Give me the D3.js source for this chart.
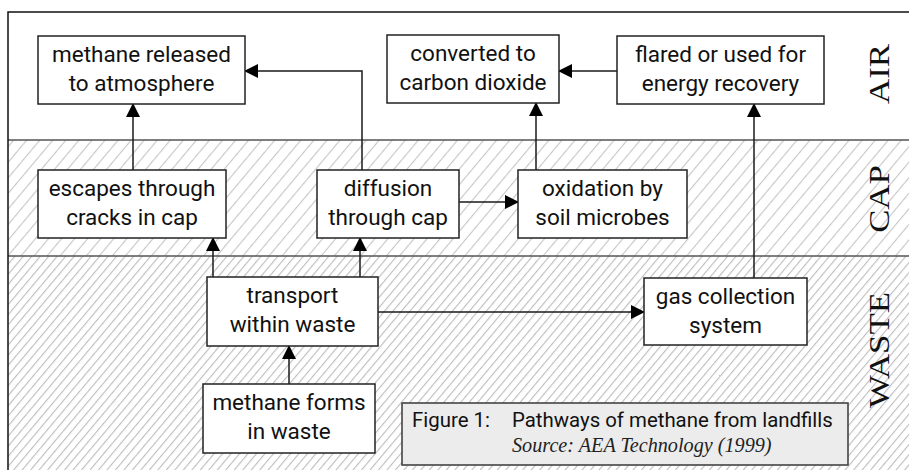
<!DOCTYPE html>
<html>
<head>
<meta charset="utf-8">
<script src="https://cdn.jsdelivr.net/npm/d3@7"></script>
<style>
  body { margin: 0; background: #fff; }
  svg { display: block; }
</style>
</head>
<body>
<div id="chart"></div>
<script>
// zones of the landfill, top to bottom
const zones = ["AIR", "CAP", "WASTE"];

// process boxes
const boxIds = ["released", "converted", "flared", "escapes", "diffusion", "oxidation", "transport", "collection", "forms"];
const boxLabels = [
  ["methane released", "to atmosphere"],
  ["converted to", "carbon dioxide"],
  ["flared or used for", "energy recovery"],
  ["escapes through", "cracks in cap"],
  ["diffusion", "through cap"],
  ["oxidation by", "soil microbes"],
  ["transport", "within waste"],
  ["gas collection", "system"],
  ["methane forms", "in waste"]
];

// pathways: source -> target
const linkSources = ["escapes", "diffusion", "oxidation", "flared", "collection", "diffusion", "transport", "transport", "transport", "forms"];
const linkTargets = ["released", "released", "converted", "converted", "flared", "oxidation", "escapes", "diffusion", "collection", "transport"];

const captionTitle = ["Figure 1:", "Pathways of methane from landfills"];
const captionSource = "Source: AEA Technology (1999)";

// ---------------- layout (not data) ----------------
const W = 909, H = 470;
const frame = { left: 8, top: 12 };
const zoneEdges = [12, 140, 256, 470];
const zoneLabelY = [74, 199, 350];

const boxPos = {
  released:   { x: 38,  y: 36,  w: 207, h: 68 },
  converted:  { x: 387, y: 35,  w: 172, h: 68 },
  flared:     { x: 617, y: 36,  w: 207, h: 68 },
  escapes:    { x: 38,  y: 170, w: 188, h: 68 },
  diffusion:  { x: 317, y: 170, w: 142, h: 68 },
  oxidation:  { x: 518, y: 170, w: 169, h: 68 },
  transport:  { x: 207, y: 277, w: 171, h: 69 },
  collection: { x: 644, y: 278, w: 163, h: 67 },
  forms:      { x: 203, y: 384, w: 172, h: 69 }
};
// routing hints for each link: vertical lane x, horizontal lane y
const routes = [
  { x: 133 }, { x: 362, y: 71 }, { x: 536 }, { y: 71 }, { x: 754 },
  { y: 202 }, { x: 213 }, { x: 360 }, { y: 312 }, { x: 289 }
];

const svg = d3.select("#chart").append("svg")
  .attr("width", W)
  .attr("height", H);

const defs = svg.append("defs");

// hatch patterns
const hatch = (id, gap, col, sw) => {
  const p = defs.append("pattern")
    .attr("id", id)
    .attr("patternUnits", "userSpaceOnUse")
    .attr("width", gap)
    .attr("height", gap)
    .attr("patternTransform", "rotate(40)");
  p.append("rect").attr("width", gap).attr("height", gap).attr("fill", "#fff");
  p.append("line")
    .attr("x1", 0.5).attr("y1", 0).attr("x2", 0.5).attr("y2", gap)
    .attr("stroke", col).attr("stroke-width", sw);
};
hatch("hatchCap", 10, "#c6c6c6", 1.2);
hatch("hatchWaste", 6.5, "#bdbdbd", 1.2);

defs.append("marker")
  .attr("id", "arrow")
  .attr("markerUnits", "userSpaceOnUse")
  .attr("viewBox", "0 -8 14 16")
  .attr("refX", 13)
  .attr("refY", 0)
  .attr("markerWidth", 14)
  .attr("markerHeight", 16)
  .attr("orient", "auto")
  .append("path")
  .attr("d", "M0,-7L14,0L0,7Z")
  .attr("fill", "#000");

// zone bands
const y = d3.scaleOrdinal().domain(zones).range(zones.map((z, i) => i));
const fills = ["#fff", "url(#hatchCap)", "url(#hatchWaste)"];

svg.selectAll(".zone")
  .data(zones)
  .enter()
  .append("rect")
  .attr("class", "zone")
  .attr("x", frame.left)
  .attr("y", (d) => zoneEdges[y(d)])
  .attr("width", W - frame.left)
  .attr("height", (d) => zoneEdges[y(d) + 1] - zoneEdges[y(d)])
  .attr("fill", (d, i) => fills[i]);

// dividers
svg.selectAll(".divider")
  .data(zones.slice(1))
  .enter()
  .append("line")
  .attr("x1", frame.left).attr("x2", W)
  .attr("y1", (d) => zoneEdges[y(d)])
  .attr("y2", (d) => zoneEdges[y(d)])
  .attr("stroke", "#555")
  .attr("stroke-width", 1.6);

// frame: top and left
svg.append("path")
  .attr("d", `M${W},${frame.top}H${frame.left}V${H}`)
  .attr("fill", "none")
  .attr("stroke", "#111")
  .attr("stroke-width", 1.5);

// zone labels (serif, a bit stretched like the original)
svg.selectAll(".zlabel")
  .data(zones)
  .enter()
  .append("text")
  .attr("class", "zlabel")
  .attr("transform", (d, i) => `translate(889,${zoneLabelY[i]}) rotate(-90) scale(1.2,1)`)
  .attr("text-anchor", "middle")
  .style("font-family", "'Liberation Serif', 'Times New Roman', serif")
  .style("font-size", "29px")
  .attr("fill", "#111")
  .text((d) => d);

// links
const boxOf = (id) => boxPos[id];
const linkPath = (s, t, r) => {
  const a = boxOf(s), b = boxOf(t);
  if (r.x !== undefined && r.y !== undefined) {
    // up then left
    return `M${r.x},${a.y}V${r.y}H${b.x + b.w}`;
  }
  if (r.x !== undefined) {
    const up = b.y < a.y;
    return up ? `M${r.x},${a.y}V${b.y + b.h}` : `M${r.x},${a.y + a.h}V${b.y}`;
  }
  const left = b.x < a.x;
  return left ? `M${a.x},${r.y}H${b.x + b.w}` : `M${a.x + a.w},${r.y}H${b.x}`;
};

svg.selectAll(".link")
  .data(linkSources.map((s, i) => ({ s, t: linkTargets[i], r: routes[i] })))
  .enter()
  .append("path")
  .attr("class", "link")
  .attr("d", (d) => linkPath(d.s, d.t, d.r))
  .attr("fill", "none")
  .attr("stroke", "#1a1a1a")
  .attr("stroke-width", 1.5)
  .attr("marker-end", "url(#arrow)");

// boxes
const boxes = svg.selectAll(".box")
  .data(boxIds.map((id, i) => ({ id, lines: boxLabels[i] })))
  .enter()
  .append("g")
  .attr("class", "box")
  .attr("transform", (d) => `translate(${boxPos[d.id].x},${boxPos[d.id].y})`);

boxes.append("rect")
  .attr("width", (d) => boxPos[d.id].w)
  .attr("height", (d) => boxPos[d.id].h)
  .attr("fill", "#fff")
  .attr("stroke", "#222")
  .attr("stroke-width", 1.5);

boxes.selectAll("text")
  .data((d) => d.lines.map((l, j) => ({ l, j, w: boxPos[d.id].w })))
  .enter()
  .append("text")
  .attr("x", (d) => d.w / 2)
  .attr("y", (d) => 26 + d.j * 29)
  .attr("text-anchor", "middle")
  .style("font-family", "Roboto, sans-serif")
  .style("font-size", "22.5px")
  .attr("fill", "#111")
  .text((d) => d.l);

// caption
const cap = svg.append("g").attr("transform", "translate(402,403)");
cap.append("rect")
  .attr("width", 446)
  .attr("height", 62)
  .attr("fill", "#ececec")
  .attr("stroke", "#444")
  .attr("stroke-width", 1.6);
cap.selectAll(".ct")
  .data(captionTitle)
  .enter()
  .append("text")
  .attr("class", "ct")
  .attr("x", (d, i) => [10, 110][i])
  .attr("y", 24)
  .style("font-family", "Roboto, sans-serif")
  .style("font-size", "20.4px")
  .attr("fill", "#111")
  .text((d) => d);
cap.append("text")
  .attr("x", 110)
  .attr("y", 49)
  .style("font-family", "'Liberation Serif', serif")
  .style("font-style", "italic")
  .style("font-size", "20.2px")
  .attr("fill", "#222")
  .text(captionSource);
</script>
</body>
</html>
